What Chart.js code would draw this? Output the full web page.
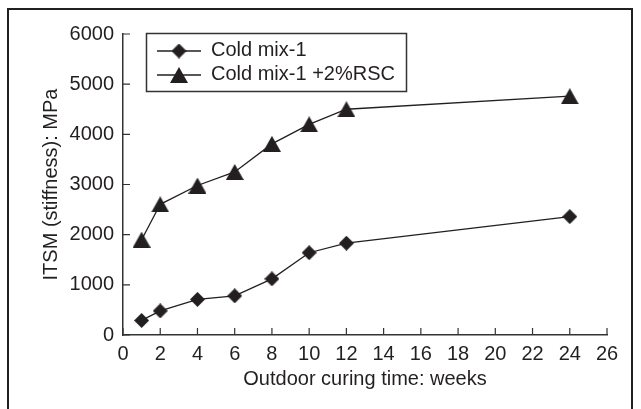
<!DOCTYPE html>
<html>
<head>
<meta charset="utf-8">
<title>ITSM stiffness vs curing time</title>
<script src="https://cdn.jsdelivr.net/npm/chart.js@4.4.1/dist/chart.umd.min.js"></script>
<style>
    html, body { margin: 0; padding: 0; background: #fff; }
    #wrap { position: relative; width: 641px; height: 409px; overflow: hidden; }
    #myChart { position: absolute; left: 0; top: 0; }
    #frame {
        position: absolute; left: 7px; top: 8px; width: 622px; height: 420px;
        border: 2px solid #231f20; border-bottom: none; pointer-events: none;
    }
</style>
</head>
<body>
<div id="wrap">
    <canvas id="myChart" width="641" height="409"></canvas>
    <div id="frame"></div>
</div>
<script>
// Data
const weeks = [1, 2, 4, 6, 8, 10, 12, 24];
const coldMix = [290, 480, 710, 780, 1120, 1640, 1830, 2360];
const coldMixRsc = [1900, 2605, 2980, 3250, 3810, 4200, 4500, 4760];
const seriesNames = ["Cold mix-1", "Cold mix-1 +2%RSC"];
const xTicks = [0, 2, 4, 6, 8, 10, 12, 14, 16, 18, 20, 22, 24, 26];
const yTicks = [0, 1000, 2000, 3000, 4000, 5000, 6000];

const ink = "#231f20";
const axisColor = "#333";
const family = "'Liberation Sans', Arial, Helvetica, sans-serif";

Chart.defaults.font.family = family;

// Marker images (diamond / triangle), centered on their box
function makeMarker(kind) {
    const c = document.createElement("canvas");
    const w = kind === "diamond" ? 15 : 18;
    const h = kind === "diamond" ? 15 : 16;
    c.width = w;
    c.height = h;
    const g = c.getContext("2d");
    g.fillStyle = ink;
    g.beginPath();
    if (kind === "diamond") {
        g.moveTo(w / 2, 0); g.lineTo(w, h / 2); g.lineTo(w / 2, h); g.lineTo(0, h / 2);
    } else {
        g.moveTo(w / 2, 0); g.lineTo(w, h); g.lineTo(0, h);
    }
    g.closePath();
    g.fill();
    return c;
}
const diamond = makeMarker("diamond");
const triangle = makeMarker("triangle");

// Ticks pointing into the plot
const inwardTicks = {
    id: "inwardTicks",
    beforeDatasetsDraw(chart) {
        const { ctx, chartArea: a, scales: { x, y } } = chart;
        ctx.save();
        ctx.strokeStyle = axisColor;
        ctx.lineWidth = 1.2;
        ctx.beginPath();
        x.ticks.forEach(t => {
            const px = x.getPixelForValue(t.value);
            ctx.moveTo(px, a.bottom);
            ctx.lineTo(px, a.bottom - 7);
        });
        y.ticks.forEach(t => {
            const py = y.getPixelForValue(t.value);
            ctx.moveTo(a.left, py);
            ctx.lineTo(a.left + 7, py);
        });
        ctx.stroke();
        ctx.restore();
    }
};

// Boxed legend with line + marker samples
const boxLegend = {
    id: "boxLegend",
    afterDraw(chart) {
        const ctx = chart.ctx;
        ctx.save();
        ctx.fillStyle = "#fff";
        ctx.fillRect(146.5, 33.5, 260, 58);
        ctx.strokeStyle = axisColor;
        ctx.lineWidth = 1.5;
        ctx.strokeRect(146.5, 33.5, 260, 58);
        chart.data.datasets.forEach((ds, i) => {
            const cy = 51 + i * 24;
            ctx.strokeStyle = ink;
            ctx.lineWidth = 1.3;
            ctx.beginPath();
            ctx.moveTo(157, cy);
            ctx.lineTo(201, cy);
            ctx.stroke();
            const m = ds.pointStyle;
            ctx.drawImage(m, 179 - m.width / 2, cy - m.height / 2);
            ctx.fillStyle = ink;
            ctx.font = "20px " + family;
            ctx.textBaseline = "middle";
            ctx.fillText(ds.label, 211, cy - 1);
        });
        ctx.restore();
    }
};

function points(values) {
    return weeks.map((w, i) => ({ x: w, y: values[i] }));
}

const ctx = document.getElementById("myChart").getContext("2d");
const chart = new Chart(ctx, {
    type: "line",
    data: {
        datasets: [
            {
                label: seriesNames[0],
                data: points(coldMix),
                borderColor: ink,
                borderWidth: 1.3,
                pointStyle: diamond,
                pointRadius: 8,
                tension: 0
            },
            {
                label: seriesNames[1],
                data: points(coldMixRsc),
                borderColor: ink,
                borderWidth: 1.3,
                pointStyle: triangle,
                pointRadius: 8,
                tension: 0
            }
        ]
    },
    options: {
        responsive: false,
        animation: false,
        events: [],
        layout: { padding: { left: 0, top: 34, right: 34, bottom: 0 } },
        plugins: {
            legend: { display: false },
            tooltip: { enabled: false }
        },
        scales: {
            x: {
                type: "linear",
                min: 0,
                max: 26,
                afterBuildTicks: s => { s.ticks = xTicks.map(v => ({ value: v })); },
                afterFit: s => { s.height = 74; },
                grid: { display: false, drawTicks: false },
                border: { display: true, color: axisColor, width: 1.5 },
                ticks: {
                    color: ink, font: { size: 20 }, padding: 7, maxRotation: 0, autoSkip: false,
                    callback: v => String(v)
                },
                title: {
                    display: true,
                    text: "Outdoor curing time: weeks",
                    color: ink,
                    font: { size: 20 },
                    padding: { top: 18, bottom: 18 }
                }
            },
            y: {
                min: 0,
                max: 6000,
                afterBuildTicks: s => { s.ticks = yTicks.map(v => ({ value: v })); },
                afterFit: s => { s.width = 123; },
                grid: { display: false, drawTicks: false },
                border: { display: true, color: axisColor, width: 1.5 },
                ticks: { color: ink, font: { size: 20 }, padding: 9, callback: v => String(v) },
                title: {
                    display: true,
                    text: "ITSM (stiffness): MPa",
                    color: ink,
                    font: { size: 20 },
                    padding: { top: 39, bottom: 39 }
                }
            }
        }
    },
    plugins: [inwardTicks, boxLegend]
});
</script>
</body>
</html>
